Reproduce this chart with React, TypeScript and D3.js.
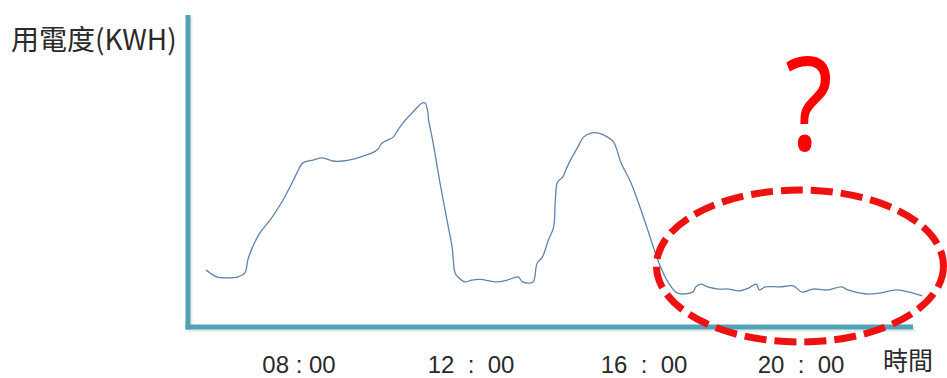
import React from "react";
import * as d3 from "d3";

// Time of day (hours) and energy use (arbitrary kWh units)
const hours: number[] = [
  5.84, 5.93, 6.09, 6.33, 6.58, 6.74, 6.81, 6.91, 7.09, 7.33, 7.56, 7.79, 7.95,
  8.09, 8.33, 8.53, 8.65, 8.79, 9.02, 9.26, 9.49, 9.7, 9.84, 9.93, 10.07, 10.19,
  10.3, 10.42, 10.65, 10.86, 10.93, 11.0, 11.01, 11.12, 11.28, 11.44, 11.56,
  11.63, 11.7, 11.86, 12.02, 12.21, 12.6, 12.84, 13.09, 13.19, 13.33, 13.44,
  13.53, 13.65, 13.79, 13.91, 13.95, 14.0, 14.12, 14.21, 14.3, 14.47, 14.6,
  14.77, 14.95, 15.16, 15.3, 15.47, 15.7, 15.93, 16.18, 16.35, 16.61, 16.86,
  17.24, 17.32, 17.44, 17.62, 17.9, 18.15, 18.41, 18.66, 18.86, 18.94, 19.09,
  19.47, 19.8, 20.03, 20.3, 20.66, 21.04, 21.19, 21.67, 22.0, 22.43, 22.76, 23.09,
];
const usage: number[] = [
  17.7, 16.8, 15.5, 15.2, 15.5, 16.8, 21.0, 24.8, 29.7, 33.9, 38.7, 44.5, 49.0,
  52.3, 53.2, 53.9, 53.5, 52.9, 52.9, 53.5, 54.5, 55.5, 56.8, 58.7, 59.7, 60.6,
  62.9, 65.2, 68.7, 71.6, 71.6, 68.4, 66.5, 58.7, 45.8, 33.9, 25.2, 16.8, 15.5,
  13.9, 14.5, 14.7, 13.9, 14.5, 15.5, 13.9, 13.5, 13.9, 20.0, 21.9, 27.4, 31.6,
  40.3, 46.1, 47.7, 50.6, 53.2, 57.4, 60.6, 61.9, 61.9, 60.6, 59.0, 52.3, 45.8,
  37.1, 27.4, 21.0, 13.9, 10.3, 10.6, 12.3, 13.2, 12.3, 11.6, 11.6, 11.0, 11.9,
  13.2, 11.3, 12.3, 12.3, 12.6, 10.6, 11.6, 11.3, 12.3, 11.3, 10.0, 10.3, 11.3,
  10.6, 9.4,
];
const tickHours: number[] = [8, 12, 16, 20];
const tickLabels: string[] = ["08 : 00", "12  :  00", "16  :  00", "20  :  00"];
const yTitle = "用電度(KWH)";
const xTitle = "時間";

const W = 947;
const H = 378;

export default function App() {
  const x = d3.scaleLinear().domain([8, 12, 16, 20]).range([299, 471, 644, 801]);
  const y = d3.scaleLinear().domain([0, 100]).range([325, 15]);
  const pts = hours.map((h, i) => [h, usage[i]] as [number, number]);
  const line = d3
    .line<[number, number]>()
    .x((d) => x(d[0]))
    .y((d) => y(d[1]))
    .curve(d3.curveCatmullRom.alpha(0.5));

  const axisColor = "#4FA3B6";
  const axisY = 327;
  const axisX = 188;
  const axisRight = 913;
  const axisTop = 15;

  return (
    <svg
      width={W}
      height={H}
      viewBox={`0 0 ${W} ${H}`}
      style={{ position: "absolute", left: 0, top: 0, display: "block", background: "#fff" }}
    >
      {/* axis shadows */}
      <line x1={axisX + 2} x2={axisX + 2} y1={axisTop + 2} y2={axisY + 2} stroke="#000" strokeOpacity={0.08} strokeWidth={5} />
      <line x1={axisX} x2={axisRight + 2} y1={axisY + 2.5} y2={axisY + 2.5} stroke="#000" strokeOpacity={0.08} strokeWidth={5} />
      {/* axes */}
      <line x1={axisX} x2={axisX} y1={axisTop} y2={axisY + 2.5} stroke={axisColor} strokeWidth={5} />
      <line x1={axisX - 2.5} x2={axisRight} y1={axisY} y2={axisY} stroke={axisColor} strokeWidth={5} />

      {/* data line */}
      <path d={line(pts) || ""} fill="none" stroke="#6083AE" strokeWidth={1.3} strokeLinejoin="round" />

      {/* y title */}
      <text
        x={11}
        y={50}
        fontFamily="'Noto Sans CJK TC', 'Noto Sans', sans-serif"
        fontSize={28}
        fill="#2a2a2a"
      >
        {yTitle}
      </text>

      {/* x tick labels */}
      {tickHours.map((h, i) => (
        <text
          key={h}
          x={x(h)}
          y={373}
          textAnchor="middle"
          fontFamily="'Liberation Sans', Arial, sans-serif"
          fontSize={24}
          fill="#2a2a2a"
          style={{ whiteSpace: "pre" }}
        >
          {tickLabels[i]}
        </text>
      ))}

      {/* x title */}
      <text
        x={883}
        y={370}
        fontFamily="'Noto Sans CJK TC', 'Noto Sans', sans-serif"
        fontSize={25}
        fill="#2a2a2a"
      >
        {xTitle}
      </text>

      {/* red dashed ellipse */}
      <ellipse
        cx={800}
        cy={266}
        rx={143.5}
        ry={76}
        fill="none"
        stroke="#EE1111"
        strokeWidth={7}
        strokeDasharray="22 8"
      />

      {/* question mark */}
      <text
        x={0}
        y={0}
        transform="translate(809,150) scale(0.85,1)"
        textAnchor="middle"
        fontFamily="'Noto Sans', sans-serif"
        fontSize={130}
        fill="#FF0000"
      >
        ?
      </text>
    </svg>
  );
}
